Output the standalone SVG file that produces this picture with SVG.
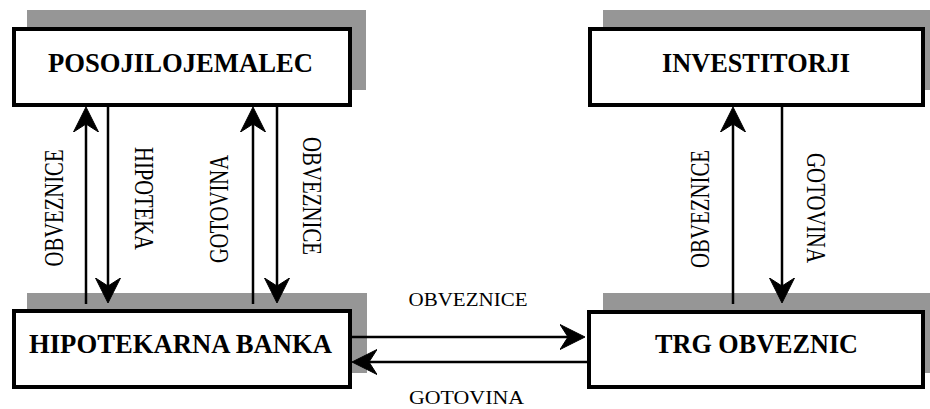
<svg xmlns="http://www.w3.org/2000/svg" width="930" height="409" viewBox="0 0 930 409">
<style>
.shadow{fill:#969696;}
.box{fill:#fff;stroke:#000;stroke-width:4;}
.title{font-family:"Liberation Serif","Times New Roman",serif;font-weight:bold;font-size:27px;fill:#000;}
.lbl{font-family:"Liberation Serif","Times New Roman",serif;font-size:27px;fill:#000;}
.hlbl{font-family:"Liberation Serif","Times New Roman",serif;font-size:19px;fill:#000;}
.conn line{stroke:#000;stroke-width:2.5;marker-end:url(#ah);}
</style>
<defs>
<marker id="ah" markerUnits="userSpaceOnUse" viewBox="0 -13 26 26" refX="8" refY="0" markerWidth="26" markerHeight="26" orient="auto">
<path d="M0,-12.5 L25,0 L0,12.5 L8,0 Z" fill="#000" stroke="#000" stroke-width="1" stroke-linejoin="miter"/>
</marker>
</defs>
<rect width="930" height="409" fill="#fff"/>
<g id="posojilojemalec">
<rect class="shadow" x="27" y="10" width="339" height="80"/>
<rect class="box" x="14" y="29" width="336" height="76"/>
<text class="title" x="48" y="72" textLength="265" lengthAdjust="spacingAndGlyphs">POSOJILOJEMALEC</text>
</g>
<g id="investitorji">
<rect class="shadow" x="603" y="10" width="327" height="80"/>
<rect class="box" x="590" y="29" width="333" height="76"/>
<text class="title" x="662" y="72" textLength="188" lengthAdjust="spacingAndGlyphs">INVESTITORJI</text>
</g>
<g id="hipotekarna-banka">
<rect class="shadow" x="27" y="293" width="340" height="80"/>
<rect class="box" x="14" y="311" width="336" height="76"/>
<text class="title" x="29" y="353" textLength="303" lengthAdjust="spacingAndGlyphs">HIPOTEKARNA BANKA</text>
</g>
<g id="trg-obveznic">
<rect class="shadow" x="603" y="293" width="327" height="80"/>
<rect class="box" x="589" y="312" width="334" height="75"/>
<text class="title" x="655" y="353" textLength="203" lengthAdjust="spacingAndGlyphs">TRG OBVEZNIC</text>
</g>
<g id="connectors" class="conn">
<line x1="86" y1="304" x2="86" y2="124"/>
<line x1="108" y1="107" x2="108" y2="286"/>
<line x1="253" y1="304" x2="253" y2="124"/>
<line x1="277" y1="107" x2="277" y2="286"/>
<line x1="733" y1="304" x2="733" y2="124"/>
<line x1="782" y1="107" x2="782" y2="286"/>
<line x1="352" y1="337" x2="568" y2="337"/>
<line x1="587" y1="362" x2="369" y2="362"/>
</g>
<g id="labels">
<text class="lbl" transform="translate(63,208) rotate(-90)" x="-58.5" y="0" textLength="117" lengthAdjust="spacingAndGlyphs">OBVEZNICE</text>
<text class="lbl" transform="translate(135,198.5) rotate(90)" x="-51.5" y="0" textLength="103" lengthAdjust="spacingAndGlyphs">HIPOTEKA</text>
<text class="lbl" transform="translate(228,209) rotate(-90)" x="-54" y="0" textLength="108" lengthAdjust="spacingAndGlyphs">GOTOVINA</text>
<text class="lbl" transform="translate(303,196) rotate(90)" x="-59" y="0" textLength="118" lengthAdjust="spacingAndGlyphs">OBVEZNICE</text>
<text class="lbl" transform="translate(709,209) rotate(-90)" x="-59" y="0" textLength="118" lengthAdjust="spacingAndGlyphs">OBVEZNICE</text>
<text class="lbl" transform="translate(807,208) rotate(90)" x="-55" y="0" textLength="110" lengthAdjust="spacingAndGlyphs">GOTOVINA</text>
<text class="hlbl" x="408.5" y="305.5" textLength="119" lengthAdjust="spacingAndGlyphs">OBVEZNICE</text>
<text class="hlbl" x="409" y="404" textLength="115" lengthAdjust="spacingAndGlyphs">GOTOVINA</text>
</g>
</svg>
